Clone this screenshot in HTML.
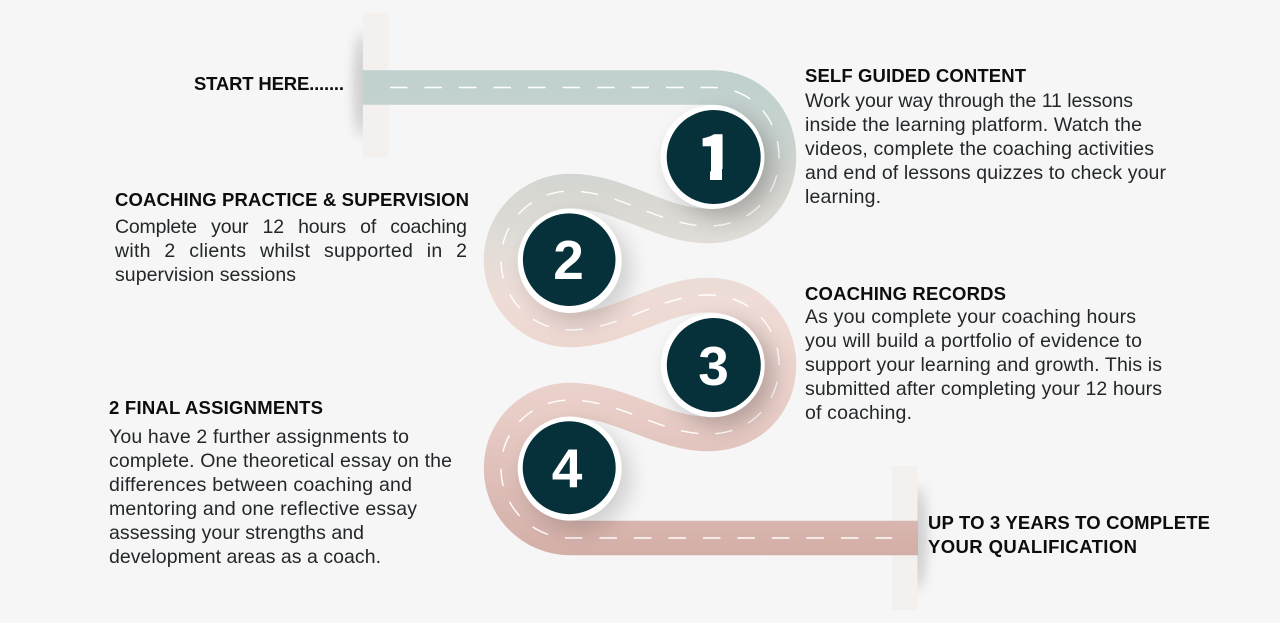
<!DOCTYPE html>
<html lang="en">
<head>
<meta charset="utf-8">
<title>Coaching qualification road map</title>
<style>
html,body{margin:0;padding:0;background:#f6f6f6;width:1280px;height:623px;overflow:hidden}
svg{display:block}
text{font-family:"Liberation Sans",sans-serif;fill:#151a1c}
.b{font-size:19.5px;fill:#232729}
.h{font-size:18.500px;font-weight:700;fill:#0b0d0e}
.n{font-weight:700;fill:#fff;text-anchor:middle}
</style>
</head>
<body>
<svg width="1280" height="623" viewBox="0 0 1280 623" xmlns="http://www.w3.org/2000/svg">
<defs>
<linearGradient id="road" gradientUnits="userSpaceOnUse" x1="0" y1="70" x2="0" y2="556">
<stop offset="0" stop-color="#bed1cf"/>
<stop offset=".15" stop-color="#c9d2ce"/>
<stop offset=".25" stop-color="#d7d7d2"/>
<stop offset=".35" stop-color="#e0dcd7"/>
<stop offset=".47" stop-color="#efdcd6"/>
<stop offset=".68" stop-color="#eacfc9"/>
<stop offset="1" stop-color="#d3aea7"/>
</linearGradient>
<filter id="sh" x="-50%" y="-50%" width="200%" height="200%"><feGaussianBlur stdDeviation="11"/></filter>
<filter id="ps" x="-300%" y="-30%" width="700%" height="160%"><feGaussianBlur stdDeviation="6.500"/></filter>
</defs>

<ellipse cx="362" cy="85" rx="7" ry="52" fill="#000" opacity=".2" filter="url(#ps)"/>
<ellipse cx="918" cy="538" rx="7" ry="52" fill="#000" opacity=".2" filter="url(#ps)"/>
<rect x="363" y="13" width="25.500" height="144" fill="#f3f0ed"/>
<rect x="892" y="466" width="25.500" height="144" fill="#f3f0ed"/>

<path d="M363 87.500 L713 87.500 C751 87.500 779 118 779 157 C779 195 751 226 708 226 C660 226 620 191 570 191 C532 191 501 222 501 260 C501 299 532 330 570 330 C620 330 660 295 708 295 C751 295 779 327 779 365 C779 403 751 434 708 434 C660 434 620 400 570 400 C532 400 501 430 501 468 C501 507 532 538 570 538 L918 538" fill="none" stroke="url(#road)" stroke-width="34.500"/>
<path d="M390 87.500 L713 87.500 C751 87.500 779 118 779 157 C779 195 751 226 708 226 C660 226 620 191 570 191 C532 191 501 222 501 260 C501 299 532 330 570 330 C620 330 660 295 708 295 C751 295 779 327 779 365 C779 403 751 434 708 434 C660 434 620 400 570 400 C532 400 501 430 501 468 C501 507 532 538 570 538 L892 538" fill="none" stroke="#fff" stroke-width="1.400" stroke-dasharray="17.500 17"/>

<circle cx="722" cy="166" r="52" fill="#000" opacity=".22" filter="url(#sh)"/>
<circle cx="578" cy="270" r="52" fill="#000" opacity=".16" filter="url(#sh)"/>
<circle cx="722" cy="374" r="52" fill="#000" opacity=".22" filter="url(#sh)"/>
<circle cx="578" cy="478" r="52" fill="#000" opacity=".16" filter="url(#sh)"/>

<circle cx="712.500" cy="157" r="52" fill="#fff"/>
<circle cx="713.700" cy="157" r="47" fill="#06313a"/>
<circle cx="569.700" cy="261" r="52" fill="#fff"/>
<circle cx="569.200" cy="259.700" r="46.300" fill="#06313a"/>
<circle cx="712.800" cy="365.200" r="52" fill="#fff"/>
<circle cx="713.800" cy="365" r="47" fill="#06313a"/>
<circle cx="569.700" cy="468.500" r="52" fill="#fff"/>
<circle cx="569.200" cy="467.700" r="46.500" fill="#06313a"/>
<text class="n" x="715.500" y="180" font-size="62" stroke="#fff" stroke-width="2.500" style="font-family:'Noto Sans CJK JP','Liberation Sans',sans-serif">1</text>
<rect x="692" y="169" width="18" height="14" fill="#06313a"/>
<rect x="722" y="169" width="16" height="14" fill="#06313a"/>
<rect x="705" y="180" width="22" height="4" fill="#06313a"/>
<text class="n" x="568.500" y="279" font-size="55">2</text>
<text class="n" x="713.500" y="385" font-size="55">3</text>
<text class="n" x="567" y="487" font-size="55">4</text>

<text class="h" x="194" y="90" textLength="150">START HERE.......</text>

<text class="h" x="805" y="82" textLength="221">SELF GUIDED CONTENT</text>
<text class="b" x="805" y="107" textLength="328">Work your way through the 11 lessons</text>
<text class="b" x="805" y="131" textLength="337">inside the learning platform. Watch the</text>
<text class="b" x="805" y="155" textLength="349">videos, complete the coaching activities</text>
<text class="b" x="805" y="179" textLength="361">and end of lessons quizzes to check your</text>
<text class="b" x="805" y="203" textLength="76">learning.</text>

<text class="h" x="115" y="206" textLength="354">COACHING PRACTICE &amp; SUPERVISION</text>
<text class="b" x="115" y="233" textLength="352" word-spacing="9">Complete your 12 hours of coaching</text>
<text class="b" x="115" y="257" textLength="352" word-spacing="8">with 2 clients whilst supported in 2</text>
<text class="b" x="115" y="281" textLength="181">supervision sessions</text>

<text class="h" x="805" y="300" textLength="201">COACHING RECORDS</text>
<text class="b" x="805" y="323" textLength="331">As you complete your coaching hours</text>
<text class="b" x="805" y="347" textLength="337">you will build a portfolio of evidence to</text>
<text class="b" x="805" y="371" textLength="357">support your learning and growth. This is</text>
<text class="b" x="805" y="395" textLength="357">submitted after completing your 12 hours</text>
<text class="b" x="805" y="419" textLength="107">of coaching.</text>

<text class="h" x="109" y="414" textLength="214">2 FINAL ASSIGNMENTS</text>
<text class="b" x="109" y="443" textLength="300">You have 2 further assignments to</text>
<text class="b" x="109" y="467" textLength="343">complete. One theoretical essay on the</text>
<text class="b" x="109" y="491" textLength="303">differences between coaching and</text>
<text class="b" x="109" y="515" textLength="308">mentoring and one reflective essay</text>
<text class="b" x="109" y="539" textLength="255">assessing your strengths and</text>
<text class="b" x="109" y="563" textLength="272">development areas as a coach.</text>

<text class="h" x="928" y="529" textLength="282">UP TO 3 YEARS TO COMPLETE</text>
<text class="h" x="928" y="553" textLength="209">YOUR QUALIFICATION</text>
</svg>
</body>
</html>
